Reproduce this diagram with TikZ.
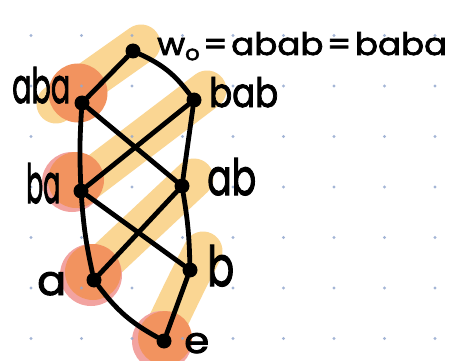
\documentclass[tikz,border=0pt]{standalone}
\usepackage{fontspec}
\setmainfont{Poppins}[FakeBold=2.2]
\definecolor{hlyellow}{HTML}{FAD693}
\definecolor{hlorange}{HTML}{F2935F}
\definecolor{hlpink}{HTML}{F2A3A0}
\definecolor{griddot}{HTML}{94A9CF}
\newcommand{\hw}[3]{\resizebox{#1pt}{#2pt}{#3}}
\begin{document}
\begin{tikzpicture}[x=1pt,y=-1pt,
  strip/.style={line width=39pt,line cap=round,draw=hlyellow},
  blob/.style={circle,fill=hlorange,inner sep=0pt},
  halo/.style={circle,fill=hlpink,inner sep=0pt},
  gdot/.style={circle,fill=griddot,inner sep=0pt,minimum size=3.4pt,opacity=0.85},
  vtx/.style={circle,fill=black,inner sep=0pt,minimum size=15pt},
  edge/.style={line width=4.8pt,line cap=round,draw=black},
  lbl/.style={anchor=base west,inner sep=0pt,font=\fontsize{30}{30}\selectfont}]
\useasboundingbox (0,0) rectangle (450,361);
\fill[white] (0,0) rectangle (450,361);
% highlight strips
\draw[strip] (141,44) -- (56,104);
\draw[strip] (207,90) -- (78,188);
\draw[strip] (194,178) -- (98,268);
\draw[strip] (203,251) .. controls (186,284) .. (163,332);
% blobs
\node[blob,minimum size=59pt] (baba) at (78,93) {};
\node[halo,minimum size=60pt] (hba) at (72,182) {};
\node[blob,minimum size=56pt] (bba) at (76,180) {};
\node[halo,minimum size=62pt] (ha) at (91,275) {};
\node[blob,minimum size=56pt] (ba) at (93,272) {};
\node[halo,minimum size=60pt] (he) at (162,341) {};
\node[blob,minimum size=54pt] (be) at (165,338) {};
% grid dots
\foreach \i in {0,...,8}{
  \foreach \j in {0,...,6}{
    \node[gdot] (g\i\j) at ({31+50.5*\i},{35.5+50.5*\j}) {};
  }
}
% vertices
\node[vtx] (w0) at (133,51) {};
\node[vtx] (aba) at (82,103) {};
\node[vtx] (bab) at (194,100) {};
\node[vtx] (ba) at (81,191) {};
\node[vtx] (ab) at (182,186) {};
\node[vtx] (a) at (94,280) {};
\node[vtx] (b) at (190,270) {};
\node[vtx] (e) at (164,341) {};
% edges
\draw[edge] (w0) -- (aba);
\draw[edge] (w0) to[bend left=14] (bab);
\draw[edge] (aba) to[bend right=3] (ba);
\draw[edge] (aba) -- (ab);
\draw[edge] (bab) -- (ba);
\draw[edge] (bab) -- (ab);
\draw[edge] (ba) to[bend right=4] (a);
\draw[edge] (ba) -- (b);
\draw[edge] (ab) -- (a);
\draw[edge] (ab) to[bend left=4] (b);
\draw[edge] (a) to[bend right=12] (e);
\draw[edge] (b) -- (e);
% labels
\node[lbl] (lw0) at (157,55) {\hw{290}{23}{w\raisebox{-5pt}{\fontsize{20}{20}\selectfont o}\kern3pt=\kern3pt abab\kern3pt=\kern3pt baba}};
\node[lbl] (laba) at (12,103) {\hw{58}{36}{aba}};
\node[lbl] (lbab) at (209,107) {\hw{69}{30}{bab}};
\node[lbl] (lba) at (26,203) {\hw{34}{40}{ba}};
\node[lbl] (lab) at (207,195) {\hw{49}{37}{ab}};
\node[lbl] (la) at (37,295) {\hw{29}{23}{a}};
\node[lbl] (lb) at (207,286) {\hw{27}{41}{b}};
\node[lbl] (le) at (184,353) {\hw{25}{20}{e}};
\end{tikzpicture}
\end{document}
